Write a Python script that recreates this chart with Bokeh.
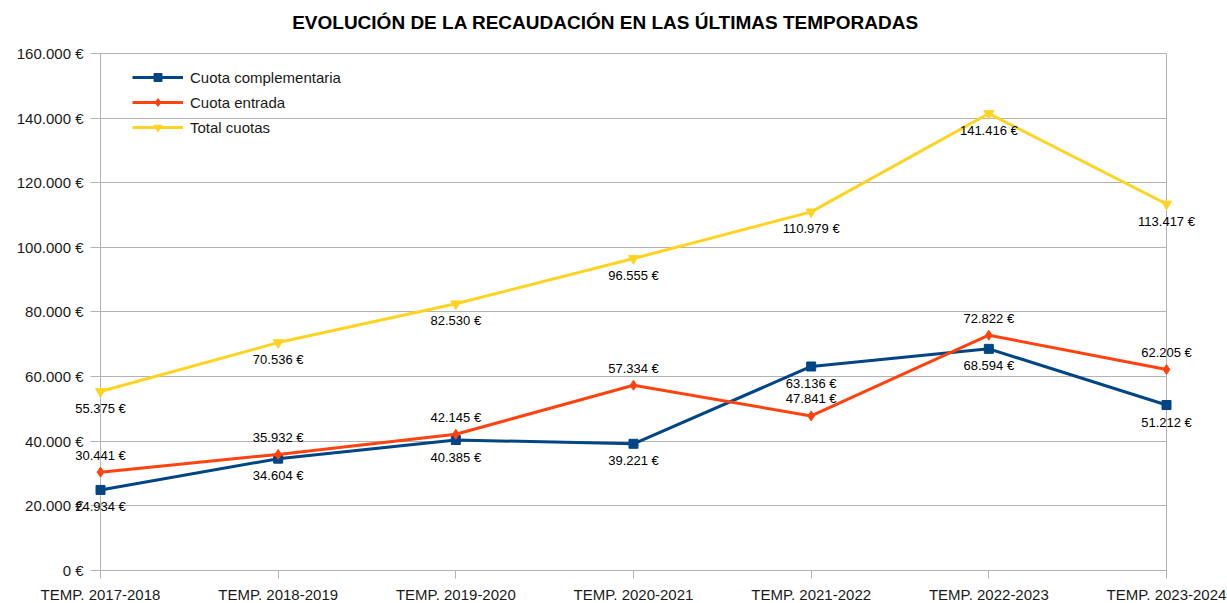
from bokeh.plotting import figure
from bokeh.models import Range1d, FixedTicker, ColumnDataSource, Label, LinearAxis, Grid
from bokeh.embed import file_html
from bokeh.resources import INLINE

# ---- data ----
categories = ["TEMP. 2017-2018", "TEMP. 2018-2019", "TEMP. 2019-2020", "TEMP. 2020-2021",
              "TEMP. 2021-2022", "TEMP. 2022-2023", "TEMP. 2023-2024"]
cuota_complementaria = [24934, 34604, 40385, 39221, 63136, 68594, 51212]
cuota_entrada = [30441, 35932, 42145, 57334, 47841, 72822, 62205]
total_cuotas = [55375, 70536, 82530, 96555, 110979, 141416, 113417]
y_ticks = [0, 20000, 40000, 60000, 80000, 100000, 120000, 140000, 160000]

TITLE = "EVOLUCIÓN DE LA RECAUDACIÓN EN LAS ÚLTIMAS TEMPORADAS"


def eur(v):
    return f"{v:,}".replace(",", ".") + " €"


FONT = "Liberation Sans"
GRID = "#b3b3b3"
TXT = "#1a1a1a"

W, H = 1227, 603
n_last = len(categories) - 1
y_max = y_ticks[-1]
# the frame covers the whole page, so that labels at the edges are never
# clipped; axes are pinned to the data edges instead
x_pad_left, x_pad_right = 0.5629, 0.3433
y_pad_bottom, y_pad_top = 10213, 16402

p = figure(width=W, height=H, output_backend="svg", toolbar_location=None,
           x_range=Range1d(-x_pad_left, n_last + x_pad_right),
           y_range=Range1d(-y_pad_bottom, y_max + y_pad_top),
           x_axis_location=None, y_axis_location=None,
           min_border_left=0, min_border_right=0, min_border_top=0, min_border_bottom=0)

p.outline_line_color = None
p.background_fill_color = "white"
p.border_fill_color = "white"
for g in p.grid:
    g.visible = False

# chart title
p.add_layout(Label(x=605, y=H - 22, x_units="screen", y_units="screen", text=TITLE,
                   text_align="center", text_baseline="middle", text_font=FONT,
                   text_font_size="19px", text_font_style="bold", text_color="#000000"))

xs = list(range(len(categories)))


def style(ax):
    ax.axis_line_color = GRID
    ax.major_tick_line_color = GRID
    ax.minor_tick_line_color = None
    ax.major_tick_in = 0
    ax.major_label_text_font = FONT
    ax.major_label_text_font_size = "15px"
    ax.major_label_text_color = TXT
    ax.level = "underlay"


yax = LinearAxis(fixed_location=0, ticker=FixedTicker(ticks=y_ticks),
                 major_label_overrides={t: eur(t) for t in y_ticks},
                 bounds=(0, y_max))
style(yax)
yax.major_tick_out = 10
yax.major_label_standoff = 7
p.add_layout(yax, "left")

xax = LinearAxis(fixed_location=0, ticker=FixedTicker(ticks=xs),
                 major_label_overrides={i: c for i, c in enumerate(categories)},
                 bounds=(0, n_last))
style(xax)
xax.major_tick_out = 8
xax.major_label_standoff = 8
p.add_layout(xax, "below")

# right border line of the plot area
rax = LinearAxis(fixed_location=n_last, ticker=FixedTicker(ticks=[]),
                 bounds=(0, y_max))
style(rax)
p.add_layout(rax, "right")

ygrid = Grid(dimension=1, ticker=FixedTicker(ticks=y_ticks),
             grid_line_color=GRID, grid_line_width=1,
             bounds=(-1000, y_max + 1000), cross_bounds=(0, n_last))
p.add_layout(ygrid, "center")

series = [
    ("Cuota complementaria", cuota_complementaria, "#004586", "square", 9, -17),
    ("Cuota entrada", cuota_entrada, "#ff420e", "diamond", 10, 17),
    ("Total cuotas", total_cuotas, "#ffd320", "inverted_triangle", 10, -17),
]

for name, vals, color, marker, size, yoff in series:
    src = ColumnDataSource(dict(x=xs, y=vals))
    p.line("x", "y", source=src, line_color=color, line_width=3, legend_label=name)
    p.scatter("x", "y", source=src, marker=marker, size=size, fill_color=color,
              line_color=color, legend_label=name)
    for xi, v in zip(xs, vals):
        p.add_layout(Label(x=xi, y=v, text=eur(v), y_offset=yoff,
                           text_align="center", text_baseline="middle",
                           text_font=FONT, text_font_size="13px",
                           text_color="#000000"))

lg = p.legend[0]
lg.location = (132, 466)
lg.background_fill_alpha = 0
lg.border_line_alpha = 0
lg.label_text_font = FONT
lg.label_text_font_size = "15px"
lg.label_text_color = TXT
lg.glyph_width = 51
lg.glyph_height = 20
lg.spacing = 5
lg.label_standoff = 7
lg.padding = 0
lg.margin = 0
lg.label_height = 20

open("out.html", "w").write(file_html(p, INLINE))
